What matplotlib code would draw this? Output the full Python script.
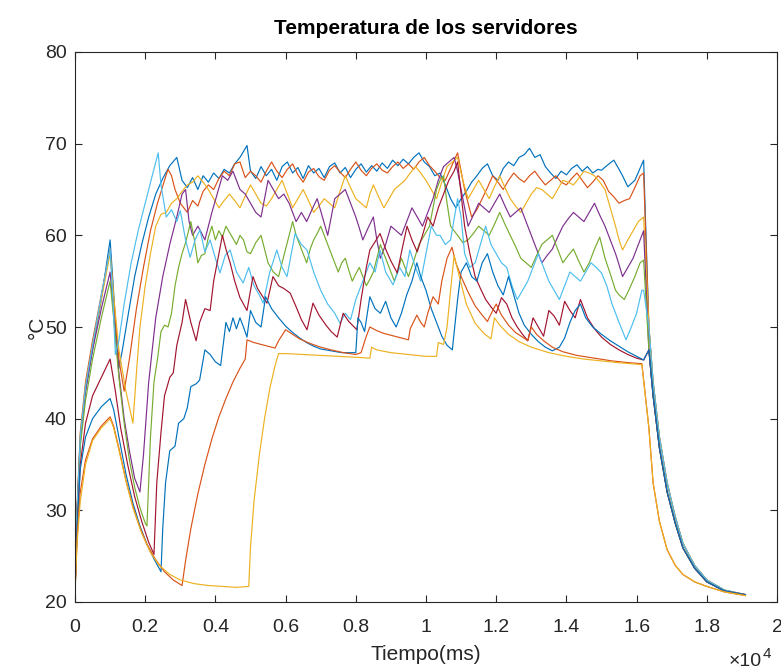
import matplotlib
matplotlib.use("Agg")
import matplotlib.pyplot as plt
from matplotlib.ticker import FuncFormatter, MultipleLocator

plt.rcParams['font.family'] = ['Liberation Sans', 'DejaVu Sans']

# MATLAB default colour order (cycles after 7 lines)
COLORS = ['#0072BD', '#D95319', '#EDB120', '#7E2F8E', '#77AC30',
          '#4DBEEE', '#A2142F', '#0072BD', '#D95319', '#EDB120']

# cool-down once the load stops (ms, degC)
TAIL_T = [16350, 16470, 16650, 16870, 17100, 17320, 17650, 18000, 18500, 19100]
TAIL_HI = [50, 44, 38, 33, 29.3, 26.4, 24, 22.4, 21.3, 20.8]
TAIL_MID = [47.5, 42.5, 36.8, 32, 28.6, 25.9, 23.7, 22.2, 21.2, 20.8]
TAIL_LO = [39, 33, 28.8, 25.7, 24, 23, 22.2, 21.7, 21.1, 20.7]

# --- server 1 (blue, top band) ---
s1_t = [0, 60, 150, 300, 500, 750, 1000, 1080, 1180, 1250, 1350, 1500, 1700, 1900, 2100,
        2300, 2500, 2700, 2900, 3050, 3200, 3350, 3500, 3650, 3800, 3950, 4100, 4250, 4400,
        4550, 4700, 4900, 5000, 5150, 5300, 5450, 5600, 5750, 5900, 6050, 6200, 6350, 6500,
        6650, 6800, 6950, 7100, 7250, 7400, 7550, 7700, 7850, 8000, 8150, 8300, 8450, 8600,
        8750, 8900, 9050, 9200, 9350, 9500, 9650, 9800, 9950, 10100, 10250, 10400, 10550,
        10700, 10850, 11000, 11150, 11300, 11450, 11600, 11750, 11900, 12050, 12200, 12350,
        12500, 12650, 12800, 12950, 13100, 13250, 13400, 13550, 13700, 13850, 14000, 14150,
        14300, 14450, 14600, 14750, 14900, 15000, 15150, 15350, 15500, 15600, 15750, 15950,
        16200]
s1_v = [21, 30, 38, 43, 47.5, 53, 59.5, 55, 49, 45.5, 47.5, 51, 55.5, 59, 62,
        64.5, 66.2, 67.6, 68.5, 66, 65.2, 66.3, 65, 66.5, 65.8, 66.8, 66.2, 67.2, 66.8,
        67.8, 68.5, 69.8, 67, 66.2, 67.5, 66.5, 67.2, 66, 67.5, 68, 66.8, 67.4, 66.2,
        67.6, 66.8, 67.3, 66.3, 67.5, 67.9, 66.8, 67.4, 66.3, 67.2, 67.8, 66.9, 67.6, 67,
        67.9, 67.3, 68.2, 67.6, 68.3, 67.8, 68.5, 69, 68, 67.5, 66.5, 66.8, 65.5,
        64, 63, 64, 64.8, 65.8, 66.5, 67.3, 67.8, 66.5, 66, 67.3, 68,
        67.6, 68.5, 68.8, 69.5, 68.5, 68.8, 67.5, 66.8, 66.2, 67, 66.6, 67.3,
        67.7, 67, 67.5, 66.8, 67.2, 67.1, 67.6, 68.2, 67.2, 66.5, 65.3, 66,
        68.2]

# --- server 2 (orange, top band) ---
s2_t = [0, 60, 150, 300, 500, 750, 1000, 1100, 1250, 1400, 1550, 1750, 1950, 2150, 2350,
        2550, 2650, 2750, 2850, 3000, 3200, 3350, 3500, 3650, 3800, 3950, 4100, 4250, 4400,
        4550, 4700, 4850, 5000, 5150, 5300, 5450, 5600, 5750, 5900, 6050, 6200, 6350, 6500,
        6650, 6800, 6950, 7100, 7250, 7400, 7550, 7700, 7850, 8000, 8150, 8300, 8450, 8600,
        8750, 8900, 9050, 9200, 9350, 9500, 9650, 9800, 9950, 10100, 10250, 10400, 10550,
        10700, 10900, 11000, 11100, 11200, 11300, 11450, 11600, 11750, 11900, 12050, 12200,
        12350, 12500, 12650, 12800, 12950, 13100, 13250, 13400, 13550, 13700, 13850, 14000,
        14150, 14300, 14450, 14600, 14750, 14900, 15050, 15200, 15350, 15500, 15650, 15800,
        15950, 16100, 16200]
s2_v = [21, 30.5, 38.5, 44, 48.5, 53.5, 58.5, 53, 46.5, 43, 46.5, 52, 56.5, 60.5, 63.5,
        66, 67.2, 66.5, 65, 63.5, 62.5, 63.8, 63.2, 64.8, 65.5, 65, 66.2, 67, 66.5,
        67.8, 68, 66.3, 67, 66.5, 65.8, 67, 68, 67, 66.3, 67.2, 67.8, 66.6, 65.8,
        66.9, 67.3, 66.4, 66, 67.1, 67.6, 66.9, 66.3, 67.2, 68, 67.1, 66.5, 67.3, 67.8,
        67.1, 66.8, 67.5, 68, 67.3, 67.8, 67.2, 68, 68.5, 67.6, 67, 66.3, 66,
        67.3, 69, 67, 65, 63.5, 62, 62.8, 64, 65.2, 66.5, 65.8, 65,
        66, 66.8, 66.2, 65.8, 66.5, 67, 66.2, 65.5, 66, 66.5, 65.8, 65.5,
        66.2, 66.8, 66, 65.2, 65.8, 66.5, 66, 64.8, 64.2, 63.5, 63.8, 64,
        65.2, 66.5, 66.8]

# --- server 3 (yellow) ---
s3_t = [0, 60, 150, 300, 500, 750, 1000, 1100, 1250, 1450, 1650, 1750, 1850, 2000, 2150,
        2300, 2450, 2600, 2750, 2900, 3050, 3200, 3350, 3500, 3650, 3800, 3950, 4100, 4250,
        4400, 4550, 4700, 4850, 5000, 5150, 5300, 5450, 5600, 5750, 5900, 6050, 6200, 6350,
        6500, 6650, 6800, 6950, 7100, 7250, 7400, 7550, 7700, 7850, 8000, 8150, 8300, 8400,
        8500, 8650, 8800, 8950, 9100, 9250, 9400, 9550, 9700, 9850, 10000, 10150, 10300,
        10450, 10600, 10750, 10900, 11050, 11200, 11350, 11500, 11650, 11800, 11950, 12100,
        12250, 12400, 12550, 12700, 12850, 13000, 13150, 13300, 13450, 13600, 13750, 13900,
        14050, 14200, 14350, 14500, 14650, 14800, 14950, 15100, 15250, 15400, 15500, 15600,
        15750, 15900, 16050, 16200]
s3_v = [21, 30, 38, 43.5, 48, 53, 58, 53.5, 47.5, 43, 39.5, 45, 50, 54.5, 58,
        61, 62.3, 62.5, 63.5, 64, 64.8, 65.5, 65.8, 66.5, 65.8, 65, 64, 63, 63.8,
        64.5, 63.8, 63, 64.3, 65.5, 64.5, 63.5, 63.2, 64, 65, 66, 64.5, 63, 64,
        65, 63.8, 62.5, 63.2, 64, 63.5, 63, 64.8, 66.5, 65.2, 64, 63.5, 63, 64.5,
        65.5, 64.2, 63, 64, 65, 65.5, 66, 66.8, 67.5, 66.8, 66, 65, 64,
        65.8, 67.5, 68, 68.5, 66, 64, 65, 66, 65, 64, 65.3, 66.5,
        65.2, 64, 63.2, 62.5, 63.5, 64.5, 65.2, 65, 64.5, 64, 65, 66,
        65.8, 65.5, 66.2, 67, 66.8, 66.5, 65.8, 65, 63, 61, 59.5, 58.4,
        59.5, 60.5, 61.5, 62]

# --- server 4 (purple) ---
s4_t = [0, 60, 150, 300, 500, 750, 1000, 1100, 1250, 1400, 1550, 1700, 1850, 1950, 2100,
        2300, 2500, 2700, 2900, 3050, 3150, 3250, 3350, 3500, 3600, 3700, 3800, 3900, 4050,
        4200, 4350, 4500, 4600, 4700, 4850, 5000, 5150, 5300, 5400, 5500, 5650, 5800, 5950,
        6100, 6200, 6300, 6450, 6600, 6750, 6900, 7050, 7200, 7300, 7400, 7550, 7700, 7850,
        8000, 8100, 8200, 8350, 8500, 8600, 8700, 8850, 9000, 9150, 9300, 9450, 9600, 9750,
        9900, 10050, 10200, 10350, 10500, 10650, 10800, 10900, 11000, 11100, 11200, 11350,
        11500, 11650, 11800, 11950, 12100, 12250, 12400, 12550, 12700, 12850, 13000, 13150,
        13300, 13450, 13600, 13750, 13900, 14050, 14200, 14350, 14500, 14650, 14800, 14950,
        15100, 15250, 15400, 15500, 15600, 15750, 15900, 16050, 16200]
s4_v = [21, 30, 37.5, 43, 47.5, 52, 56, 51.5, 45, 40, 36.5, 33.5, 32, 36, 44,
        51, 55.5, 59, 62, 64.5, 65, 61.5, 60, 61, 60.3, 59.5, 61, 62.5, 64.5,
        66.5, 66, 67, 66, 65, 64.5, 63.5, 62.5, 62, 64, 66, 65, 64, 64.5,
        63.5, 62.5, 61.5, 62.5, 61.5, 62.8, 64, 62, 60, 62, 64, 64.5, 65, 63.5,
        62, 60.8, 59.5, 60.8, 62, 59.5, 57.5, 59, 61, 60.5, 60, 61.5, 63, 62,
        61, 62.5, 64, 66, 67.5, 68, 68.5, 67, 65, 63, 61, 62.2,
        63.5, 63, 62.5, 63.5, 64.5, 63.2, 62, 62.5, 63, 61.5, 60, 58.5,
        57, 57.8, 58.5, 59.8, 61, 61.8, 62.5, 62, 61.5, 62.5, 63.5, 62.2,
        61, 59.5, 58, 56.8, 55.5, 56.5, 57.5, 59, 60.5]

# --- server 5 (green) ---
s5_t = [0, 60, 150, 300, 500, 750, 1000, 1100, 1250, 1400, 1550, 1700, 1850, 2000, 2050,
        2150, 2250, 2350, 2450, 2550, 2650, 2750, 2850, 2950, 3050, 3150, 3300, 3400, 3500,
        3600, 3700, 3800, 3900, 4000, 4100, 4200, 4300, 4450, 4600, 4700, 4800, 4900, 5000,
        5150, 5300, 5400, 5500, 5650, 5800, 5900, 6000, 6100, 6200, 6300, 6400, 6500, 6600,
        6700, 6800, 6900, 7000, 7100, 7200, 7350, 7500, 7600, 7700, 7800, 7900, 8000, 8100,
        8200, 8300, 8400, 8500, 8600, 8700, 8800, 8900, 9000, 9100, 9200, 9300, 9400, 9500,
        9650, 9800, 9950, 10100, 10200, 10300, 10400, 10500, 10600, 10700, 10800, 10900,
        11050, 11200, 11350, 11500, 11650, 11800, 11950, 12100, 12250, 12400, 12550, 12700,
        12850, 13000, 13150, 13300, 13450, 13600, 13750, 13900, 14050, 14200, 14350, 14500,
        14650, 14800, 14950, 15100, 15250, 15400, 15500, 15650, 15800, 15950, 16100, 16200]
s5_v = [21, 29.5, 37, 42, 46.5, 51, 55, 51, 44.5, 39.5, 35.5, 32.5, 30.3, 28.6, 28.3,
        38, 44, 46.5, 49.5, 50.2, 50, 51.5, 54.5, 56.5, 58, 59.2, 61.5, 59.5, 57,
        57.8, 58, 59.8, 61, 59.5, 60.5, 59.8, 61, 60, 59, 60, 59.5, 58.2, 58,
        59.2, 60, 58.5, 57, 56, 55.5, 57, 58.5, 60, 61.5, 60, 59, 58, 57,
        58.5, 59.5, 60.2, 61, 60, 59, 57.5, 56, 57, 57.5, 56.2, 55, 55.8, 56.5,
        55.5, 54.5, 55.2, 56, 57.5, 59, 58, 57, 56, 55, 56.2, 57.5, 56.5, 55.5,
        57.2, 59, 60, 61, 63, 65, 66, 66.5, 63.5, 61, 60.5, 60,
        59.2, 59.5, 60.2, 61, 60.5, 60, 61.2, 62.5, 61.2, 60, 58.8, 57.5,
        57, 56.5, 57.8, 59, 59.5, 60, 58.5, 57, 57.8, 58.5, 57.2, 56,
        57, 58.5, 59.8, 57.5, 55.8, 54, 53.5, 53, 54.2, 55.5, 57, 57.3]

# --- server 6 (cyan) ---
s6_t = [0, 60, 150, 300, 500, 750, 1000, 1080, 1150, 1250, 1400, 1600, 1800, 2000, 2200,
        2370, 2450, 2600, 2750, 2900, 3000, 3150, 3280, 3420, 3560, 3700, 3850, 4000, 4130,
        4280, 4420, 4600, 4790, 4950, 5100, 5250, 5360, 5550, 5750, 5900, 6040, 6270, 6450,
        6610, 6800, 7000, 7200, 7400, 7550, 7700, 7850, 8000, 8200, 8400, 8550, 8690, 8850,
        9060, 9250, 9400, 9540, 9700, 9850, 10000, 10150, 10300, 10400, 10550, 10700, 10900,
        11000, 11100, 11250, 11400, 11550, 11700, 11850, 12000, 12150, 12300, 12450, 12600,
        12750, 12900, 13050, 13200, 13350, 13500, 13650, 13800, 13950, 14100, 14250, 14400,
        14550, 14700, 14850, 15000, 15150, 15300, 15500, 15700, 15850, 16000, 16150, 16200]
s6_v = [21, 30, 38, 43.5, 48, 53.5, 58.5, 53, 47, 48.5, 52.5, 57, 60.5, 63.5, 66.5,
        69, 65.5, 62, 62.8, 61.5, 62.7, 59.5, 57.6, 59.5, 60.6, 58.2, 59.5, 57.5, 55.9,
        57.8, 58.4, 56, 54.8, 56.5, 54.5, 53.5, 52.6, 56, 58.4, 56.5, 55.5, 60.2, 59,
        58.4, 56, 54, 52.5, 51.5, 50.4, 51.5, 50.8, 53, 55, 57, 56, 58.4, 56,
        54.6, 56.5, 55.5, 58.4, 56.5, 55, 58, 61, 60, 60, 59, 59.5, 64,
        62, 58, 56.5, 57, 59, 61, 59, 58, 57, 56.5, 54.5, 53,
        54, 55, 56.5, 58, 56.5, 55, 54, 53, 54.5, 56, 55.5, 55,
        56, 57, 56.5, 55.9, 54.5, 52.5, 50.5, 48.6, 50, 51.5, 54, 54]

# --- server 7 (dark red) ---
s7_t = [0, 60, 150, 300, 500, 750, 1000, 1150, 1300, 1500, 1700, 1900, 2100, 2250, 2330,
        2450, 2550, 2700, 2800, 2900, 3050, 3150, 3300, 3450, 3550, 3700, 3850, 3950, 4100,
        4200, 4300, 4420, 4550, 4700, 4900, 5070, 5200, 5350, 5470, 5640, 5800, 5950, 6130,
        6300, 6450, 6610, 6780, 6950, 7150, 7300, 7470, 7640, 7800, 8030, 8150, 8300, 8400,
        8550, 8690, 8850, 9000, 9180, 9320, 9460, 9600, 9750, 9900, 10050, 10200, 10350,
        10500, 10650, 10800, 10900, 11000, 11100, 11250, 11400, 11550, 11700, 11850, 12000,
        12150, 12300, 12450, 12600, 12750, 12900, 13050, 13200, 13350, 13500, 13650, 13800,
        13950, 14100, 14250, 14400, 14600, 14800, 15000, 15250, 15500, 15750, 16000, 16200]
s7_v = [21, 28, 35, 39.5, 42.5, 44.5, 46.5, 43, 39, 35, 31.5, 28.8, 26.5, 25.2, 33,
        38.5, 42.5, 44.5, 45, 48, 50.5, 53, 50.5, 48.5, 50.5, 52, 51.8, 55, 58,
        60, 58.5, 57, 55, 53.2, 51.8, 55.5, 54.2, 53.3, 52.6, 55.5, 54.5, 54.2, 53.7,
        52.2, 50.8, 49.7, 52.6, 51.3, 50.2, 49.5, 48.9, 51.5, 50.6, 49.7, 53, 56.5, 58.4,
        59.3, 60.2, 58.5, 57.2, 55.9, 58.5, 61, 59.5, 58.2, 60, 62, 61, 63,
        64.5, 66, 67, 68, 64.5, 61, 58, 55.5, 54.2, 53, 52.2, 51.5,
        53.2, 52.5, 51, 50, 49.2, 48.5, 51, 50, 49, 51.8, 51.2, 50.2,
        52.8, 51.8, 51, 53, 51, 49.8, 48.9, 48.1, 47.5, 47, 46.6, 46.4]

# --- server 8 (blue, lower) ---
s8_t = [0, 60, 150, 300, 500, 750, 1000, 1100, 1250, 1450, 1650, 1850, 2050, 2250, 2450,
        2500, 2580, 2700, 2850, 2950, 3100, 3200, 3300, 3450, 3550, 3700, 3850, 4000, 4150,
        4300, 4400, 4500, 4600, 4700, 4800, 4900, 5000, 5150, 5300, 5430, 5600, 5800, 6000,
        6200, 6400, 6600, 6800, 7000, 7300, 7600, 8000, 8060, 8150, 8250, 8400, 8550, 8700,
        8850, 9000, 9150, 9300, 9450, 9600, 9740, 9850, 10000, 10150, 10300, 10450, 10600,
        10750, 10900, 11000, 11150, 11300, 11450, 11600, 11750, 11900, 12050, 12200, 12350,
        12500, 12650, 12800, 13000, 13200, 13400, 13600, 13800, 13950, 14100, 14250, 14400,
        14550, 14750, 15000, 15250, 15500, 15750, 16000, 16200]
s8_v = [21, 28, 34.5, 38, 40, 41.3, 42.2, 41, 38, 34, 30.8, 28.3, 26.3, 24.7, 23.3,
        28, 33, 36.5, 37, 39.5, 40, 41.2, 43.5, 43.8, 44.2, 47.5, 47, 46.2, 45.8,
        50.5, 49.5, 51, 49.8, 51, 50, 48.9, 51.8, 50.5, 50, 53.3, 52, 51, 50.1,
        49.4, 48.8, 48.3, 47.9, 47.6, 47.4, 47.2, 47.2, 51, 50.5, 49.5, 53.3, 52, 51.5,
        52.8, 51, 50, 51.5, 53.5, 55, 57, 55.5, 54, 52, 50.5, 49, 48,
        47.5, 53, 56, 57, 55.5, 55, 57, 58, 56, 54.5, 53.5, 55.5,
        53.5, 51.5, 50.2, 49.2, 48.4, 47.8, 47.4, 47.8, 48.8, 50.5, 51.8, 52.5,
        51, 50, 49.2, 48.5, 47.9, 47.3, 46.8, 46.4]

# --- server 9 (orange, lower) ---
s9_t = [0, 60, 150, 300, 500, 750, 1000, 1100, 1250, 1450, 1650, 1850, 2050, 2300, 2550,
        2800, 3050, 3150, 3300, 3500, 3700, 3900, 4100, 4300, 4500, 4700, 4850, 4900, 5100,
        5300, 5500, 5700, 5800, 6000, 6200, 6400, 6700, 7000, 7300, 7650, 8000, 8150, 8300,
        8400, 8600, 8800, 9100, 9300, 9500, 9550, 9740, 9850, 9950, 10050, 10200, 10350,
        10450, 10600, 10740, 10850, 11000, 11200, 11400, 11600, 11750, 11900, 12000, 12150,
        12350, 12550, 12750, 12900, 13000, 13150, 13350, 13600, 13900, 14300, 14800, 15300,
        15800, 16150]
s9_v = [21, 27, 32, 35.5, 37.8, 39.2, 40.2, 39.2, 36.8, 33.3, 30.4, 28.1, 26.3, 24.6, 23.3,
        22.4, 21.8, 24.5, 28, 31.8, 35, 37.8, 40.2, 42.2, 44, 45.5, 46.5, 48.6, 48.3,
        48.1, 47.9, 47.7, 48.5, 49.7, 49.2, 48.7, 48.2, 47.8, 47.5, 47.2, 47, 47.2, 49,
        50, 49.6, 49.3, 49, 48.8, 48.6, 49.8, 51.3, 50.5, 50, 51.5, 53.3, 52.5,
        55, 57.5, 58.7, 57, 55.5, 53.8, 52.3, 51.3, 50.6, 51.8, 52.5, 51.3,
        50.2, 49.4, 48.9, 48.5, 50, 49.2, 48.5, 47.8, 47.3, 46.9, 46.6, 46.3,
        46.1, 46]

# --- server 10 (yellow, lower) ---
s10_t = [0, 60, 150, 300, 500, 750, 1000, 1100, 1250, 1450, 1650, 1900, 2150, 2400, 2700,
         3000, 3400, 3800, 4200, 4600, 4950, 5000, 5100, 5250, 5400, 5550, 5700, 5800, 6000,
         6500, 7000, 7500, 8000, 8400, 8450, 8600, 9000, 9500, 10000, 10300, 10350, 10500,
         10600, 10700, 10800, 10950, 11150, 11400, 11650, 11850, 11950, 12100, 12350, 12650,
         13000, 13500, 14000, 14500, 15000, 15500, 16150]
s10_v = [21, 26.5, 31, 35, 37.6, 39, 40, 39, 36.6, 33.2, 30.3, 27.5, 25.4, 24, 23,
         22.4, 22, 21.8, 21.7, 21.6, 21.7, 26, 31, 36, 40, 43.3, 45.8, 47.1, 47.1,
         47, 46.9, 46.8, 46.7, 46.6, 47.8, 47.5, 47.2, 47, 46.8, 46.8, 48.3, 48.1,
         50, 54, 57.8, 55.5, 52.5, 50.4, 49.3, 48.7, 51, 50.2, 49.2, 48.4,
         47.8, 47.2, 46.8, 46.5, 46.3, 46.1, 45.9]

SERIES = [(s1_t, s1_v, TAIL_HI), (s2_t, s2_v, TAIL_HI), (s3_t, s3_v, TAIL_HI),
          (s4_t, s4_v, TAIL_MID), (s5_t, s5_v, TAIL_MID), (s6_t, s6_v, TAIL_HI),
          (s7_t, s7_v, TAIL_MID), (s8_t, s8_v, TAIL_MID), (s9_t, s9_v, TAIL_LO),
          (s10_t, s10_v, TAIL_LO)]

W, H = 781, 671
fig = plt.figure(figsize=(W / 100, H / 100), dpi=100)
ax = fig.add_axes([75 / W, 69 / H, 702 / W, 550 / H])

for (t, v, tail), c in zip(SERIES, COLORS):
    ax.plot(t + TAIL_T, v + tail, color=c, lw=0.85)

ax.set_xlim(0, 20000)
ax.set_ylim(20, 80)
ax.xaxis.set_major_locator(MultipleLocator(2000))
ax.yaxis.set_major_locator(MultipleLocator(10))
ax.xaxis.set_major_formatter(FuncFormatter(lambda x, p: f"{x / 1e4:g}"))

axcol = '#262626'
for sp in ax.spines.values():
    sp.set_color(axcol)
    sp.set_linewidth(0.8)
ax.tick_params(direction='in', top=True, right=True, length=5, width=0.8,
               colors=axcol, labelsize=14)
ax.tick_params(axis='x', pad=12)
ax.tick_params(axis='y', pad=6)

fig.text(426 / W, 1 - 29 / H, "Temperatura de los servidores", fontsize=15,
         fontweight='bold', color='black', ha='center', va='center')
ax.set_xlabel("Tiempo(ms)", fontsize=15, color=axcol)
ax.xaxis.set_label_coords(0.5, -(645 - 602) / 550)
ax.set_ylabel("°C", fontsize=15, color=axcol)
ax.yaxis.set_label_coords(-(75 - 47) / 702, 0.5)
# axis multiplier, drawn like MATLAB's exponent label
fig.text(729 / W, 1 - 662 / H, "×10", fontsize=14, color=axcol,
         ha='left', va='center')
fig.text(763 / W, 1 - 654 / H, "4", fontsize=11, color=axcol,
         ha='left', va='center')

fig.savefig("out.png", dpi=100)
